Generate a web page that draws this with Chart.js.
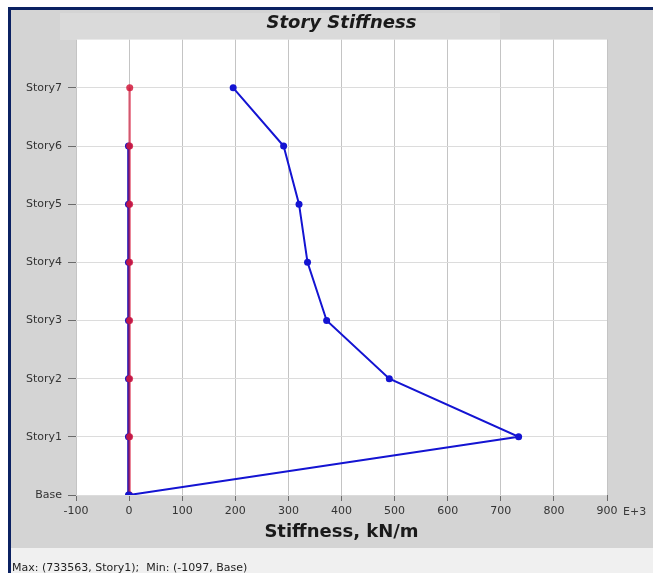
<!DOCTYPE html>
<html>
<head>
<meta charset="utf-8">
<title>Story Stiffness</title>
<script src="https://cdn.jsdelivr.net/npm/chart.js@4.4.1/dist/chart.umd.min.js"></script>
<style>
  html, body { margin: 0; padding: 0; background: #ffffff; }
  #chart { display: block; }
</style>
</head>
<body>
<canvas id="chart" width="653" height="573"></canvas>
<script>
// Dados (valores em E+3 kN/m)
const stories = ['Base', 'Story1', 'Story2', 'Story3', 'Story4', 'Story5', 'Story6', 'Story7'];
const stiffnessMain = [0, 733.6, 490, 372, 336, 320, 291, 196];
const stiffnessSmall = [-1.1, -1.2, -1.2, -1.2, -1.2, -1.2, -1.2, null];
const stiffnessRed = [0.8, 0.9, 0.9, 0.9, 0.9, 1.0, 1.0, 1.2];
const xTicks = [-100, 0, 100, 200, 300, 400, 500, 600, 700, 800, 900];
const footerText = 'Max: (733563, Story1);  Min: (-1097, Base)';

function toPoints(values) {
    return values.map(function(v, i) { return { x: v, y: i }; });
}

// Fundo ao estilo da janela original
const backgroundPlugin = {
    id: 'background',
    beforeDraw: function(chart) {
        const ctx = chart.ctx;
        const area = chart.chartArea;
        ctx.save();
        ctx.fillStyle = '#ffffff';
        ctx.fillRect(0, 0, chart.width, chart.height);
        ctx.fillStyle = '#d4d4d4';
        ctx.fillRect(11, 10, chart.width - 11, 538);
        ctx.fillStyle = '#dadada';
        ctx.fillRect(60, 13, 440, 27);
        ctx.fillStyle = '#f0f0f0';
        ctx.fillRect(11, 548, chart.width - 11, chart.height - 548);
        ctx.fillStyle = '#0b2162';
        ctx.fillRect(8, 7, chart.width - 8, 3);
        ctx.fillRect(8, 7, 3, chart.height - 7);
        ctx.fillStyle = '#ffffff';
        ctx.fillRect(area.left, area.top, area.right - area.left, area.bottom - area.top);
        ctx.restore();
    },
    afterDraw: function(chart) {
        const ctx = chart.ctx;
        const area = chart.chartArea;
        ctx.save();
        ctx.fillStyle = '#3a3a3a';
        ctx.font = '11px "DejaVu Sans"';
        ctx.textBaseline = 'middle';
        ctx.textAlign = 'left';
        ctx.fillText('E+3', area.right + 16, 512);
        ctx.fillStyle = '#222222';
        ctx.font = '11px "DejaVu Sans"';
        ctx.textBaseline = 'top';
        ctx.fillText(footerText, 12, 563);
        ctx.restore();
    }
};

Chart.defaults.font.family = '"DejaVu Sans", sans-serif';

const config = {
    type: 'line',
    data: {
        datasets: [{
            label: 'Stiffness',
            data: toPoints(stiffnessMain),
            borderColor: '#1414d2',
            backgroundColor: '#1414d2',
            borderWidth: 2,
            pointRadius: 3.5,
            pointBorderWidth: 0,
            order: 1
        }, {
            label: 'Stiffness small',
            data: toPoints(stiffnessSmall),
            borderColor: '#1a14b4',
            backgroundColor: '#1a14c0',
            borderWidth: 2.5,
            pointRadius: 3.5,
            pointBorderWidth: 0,
            order: 3
        }, {
            label: 'Stiffness red',
            data: toPoints(stiffnessRed),
            borderColor: 'rgba(215, 20, 55, 0.6)',
            backgroundColor: 'rgba(210, 25, 60, 0.85)',
            borderWidth: 2.5,
            pointRadius: 3.5,
            pointBorderWidth: 0,
            order: 2
        }]
    },
    options: {
        responsive: false,
        maintainAspectRatio: false,
        animation: false,
        layout: {
            padding: { left: 11, top: 10, right: 46, bottom: 25 }
        },
        scales: {
            x: {
                type: 'linear',
                min: -100,
                max: 900,
                afterBuildTicks: function(scale) {
                    scale.ticks = xTicks.map(function(v) { return { value: v }; });
                },
                afterFit: function(scale) { scale.height = 53; },
                border: { display: false },
                grid: {
                    color: '#c4c4c4',
                    lineWidth: 1,
                    tickLength: 6,
                    tickColor: '#6a6a6a'
                },
                ticks: {
                    color: '#333333',
                    font: { size: 11 },
                    padding: 4,
                    maxRotation: 0
                },
                title: {
                    display: true,
                    text: 'Stiffness, kN/m',
                    color: '#1a1a1a',
                    font: { family: '"DejaVu Sans", sans-serif', size: 18, weight: 'bold' },
                    padding: { top: 0, bottom: 5 }
                }
            },
            y: {
                type: 'linear',
                min: 0,
                max: 7.83,
                afterBuildTicks: function(scale) {
                    scale.ticks = stories.map(function(s, i) { return { value: i }; });
                },
                afterFit: function(scale) { scale.width = 65; },
                border: { display: false },
                grid: {
                    color: '#dcdcdc',
                    lineWidth: 1,
                    tickLength: 8,
                    tickColor: '#6a6a6a'
                },
                ticks: {
                    color: '#333333',
                    font: { size: 11 },
                    padding: 6,
                    callback: function(value) { return stories[value]; }
                }
            }
        },
        plugins: {
            legend: { display: false },
            tooltip: { enabled: false },
            title: {
                display: true,
                fullSize: false,
                text: 'Story Stiffness',
                color: '#1a1a1a',
                font: { family: '"DejaVu Sans", sans-serif', size: 18, weight: 'bold', style: 'italic' },
                padding: { top: 3, bottom: 5 }
            }
        }
    },
    plugins: [backgroundPlugin]
};

const ctx = document.getElementById('chart').getContext('2d');
new Chart(ctx, config);
</script>
</body>
</html>
